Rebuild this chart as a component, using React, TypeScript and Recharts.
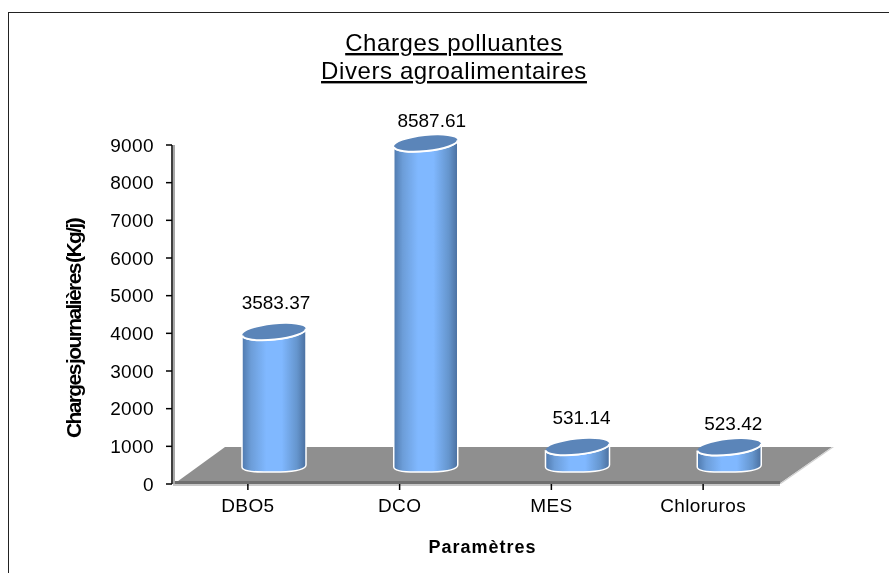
import { Bar, BarChart, LabelList, ReferenceArea, XAxis, YAxis } from 'recharts'

const categories = ['DBO5', 'DCO', 'MES', 'Chloruros']
const charges = [3583.37, 8587.61, 531.14, 523.42]
const yTicks = [0, 1000, 2000, 3000, 4000, 5000, 6000, 7000, 8000, 9000]

const data = categories.map((name, i) => ({ name, value: charges[i] }))

const FONT = '"Liberation Sans", Arial, sans-serif'
// fake 3D: columns and labels sit in front of the axes
const DEPTH_X = 26
const DEPTH_Y = 17
const FLOOR_TOP = 980
const FLOOR_SKEW = 53
const labelNudge = [
  { dx: 2, dy: -6 },
  { dx: 6, dy: 0 },
  { dx: 4, dy: -6 },
  { dx: 4, dy: 0 },
]

function Cylinder(props: any) {
  const { x, y, width, height } = props
  const cx = x + width / 2 + DEPTH_X
  const top = y - DEPTH_Y
  const base = y + height - 16
  const r = width / 2
  const tilt = 6
  const ry = 7.5
  const rise = r * Math.sin((tilt * Math.PI) / 180)
  const side = `M${cx - r},${top + rise} L${cx - r},${base - 1} Q${cx - r},${base + 4} ${cx - 10},${base + 4} L${cx + 6},${base + 4} Q${cx + r},${base + 3} ${cx + r},${base - 3} L${cx + r},${top - rise} A${r},${ry} ${-tilt} 0 1 ${cx - r},${top + rise} Z`
  return (
    <g>
      <path d={side} fill="url(#cylinderSide)" stroke="#ffffff" strokeWidth={1.5} />
      <g transform={`rotate(${-tilt} ${cx} ${top})`}>
        <ellipse cx={cx} cy={top} rx={r} ry={ry} fill="#5b85b9" />
        <path d={`M${cx - r},${top} A${r},${ry} 0 0 0 ${cx + r},${top}`} fill="none" stroke="#ffffff" strokeWidth={2} />
      </g>
    </g>
  )
}

function Floor(props: any) {
  const { x, y, width, height } = props
  const bottom = y + height
  return (
    <g>
      <polygon points={`${x + 2},${bottom} ${x + width},${bottom} ${x + width + FLOOR_SKEW},${y} ${x + FLOOR_SKEW},${y}`} fill="#8f8f8f" />
      <polygon points={`${x + width},${bottom} ${x + width + FLOOR_SKEW},${y} ${x + width + FLOOR_SKEW + 2},${y} ${x + width + 2},${bottom}`} fill="#d0d0d0" />
      <rect x={x + 1} y={bottom - 3} width={width} height={3} fill="#6f6f6f" />
      <rect x={x + 1} y={bottom} width={width} height={2} fill="#c8c8c8" />
    </g>
  )
}

function AxisShadow(props: any) {
  const { x, y, height } = props
  return <rect x={x + 1} y={y} width={2} height={height} fill="#a8a8a8" />
}

function ValueLabel(props: any) {
  const { x, y, width, value, index } = props
  const nudge = labelNudge[index]
  return (
    <text
      x={x + width / 2 + DEPTH_X + nudge.dx}
      y={y - 34 + nudge.dy}
      textAnchor="middle"
      fontFamily={FONT}
      fontSize={19}
      fill="#000"
    >
      {value}
    </text>
  )
}

export default function App() {
  return (
    <div style={{ position: 'absolute', left: 0, top: 0, width: 889, height: 573, background: '#fff', overflow: 'hidden' }}>
      <div style={{ position: 'absolute', left: 8, top: 12, width: 881, height: 561, borderLeft: '1px solid #222', borderTop: '1px solid #222' }} />
      <div style={{ position: 'absolute', left: 0, top: 0, filter: 'blur(0.35px)' }}>
        <BarChart
          width={889}
          height={573}
          data={data}
          barSize={64}
          margin={{ top: 145, right: 110, bottom: 0, left: 0 }}
        >
          <defs>
            <linearGradient id="cylinderSide" x1="0" y1="0" x2="1" y2="0">
              <stop offset="0" stopColor="#4f79ad" />
              <stop offset="0.14" stopColor="#6c9dd8" />
              <stop offset="0.38" stopColor="#80b8ff" />
              <stop offset="0.62" stopColor="#80b8ff" />
              <stop offset="0.86" stopColor="#6595cd" />
              <stop offset="1" stopColor="#4a6f9f" />
            </linearGradient>
          </defs>
          <text x={454} y={51} textAnchor="middle" fontFamily={FONT} fontSize={24} letterSpacing={0.6} textDecoration="underline" fill="#000">
            Charges polluantes
          </text>
          <text x={454} y={79} textAnchor="middle" fontFamily={FONT} fontSize={24} letterSpacing={0.6} textDecoration="underline" fill="#000">
            Divers agroalimentaires
          </text>
          <ReferenceArea y1={0} y2={FLOOR_TOP} shape={<Floor />} ifOverflow="visible" />
          <XAxis
            dataKey="name"
            height={89}
            interval={0}
            tickSize={6}
            axisLine={false}
            tickLine={{ stroke: '#000', strokeWidth: 1.5 }}
            tick={{ fontFamily: FONT, fontSize: 19, fill: '#000', letterSpacing: 0.4 }}
            tickMargin={9}
            label={{ value: 'Paramètres', position: 'insideBottom', offset: 20, dx: 7, fontFamily: FONT, fontSize: 18, fontWeight: 700, letterSpacing: 1, fill: '#000' }}
          />
          <YAxis
            width={172}
            domain={[0, 9000]}
            ticks={yTicks}
            interval={0}
            tickSize={6}
            axisLine={{ stroke: '#000', strokeWidth: 1.5 }}
            tickLine={{ stroke: '#000', strokeWidth: 1.5 }}
            tick={{ fontFamily: FONT, fontSize: 19, fill: '#000', letterSpacing: 0.4 }}
            tickMargin={12}
            label={{ value: 'Charges journalières (Kg/j)', angle: -90, position: 'insideLeft', offset: 74, dy: 14, fontFamily: FONT, fontSize: 21, fontWeight: 700, letterSpacing: -1.6, wordSpacing: -3, fill: '#000', style: { textAnchor: 'middle' } }}
          />
          <ReferenceArea y1={0} y2={9000} x1="DBO5" x2="DBO5" shape={<AxisShadow />} ifOverflow="visible" />
          <Bar dataKey="value" isAnimationActive={false} shape={<Cylinder />}>
            <LabelList dataKey="value" content={<ValueLabel />} />
          </Bar>
        </BarChart>
      </div>
    </div>
  )
}
